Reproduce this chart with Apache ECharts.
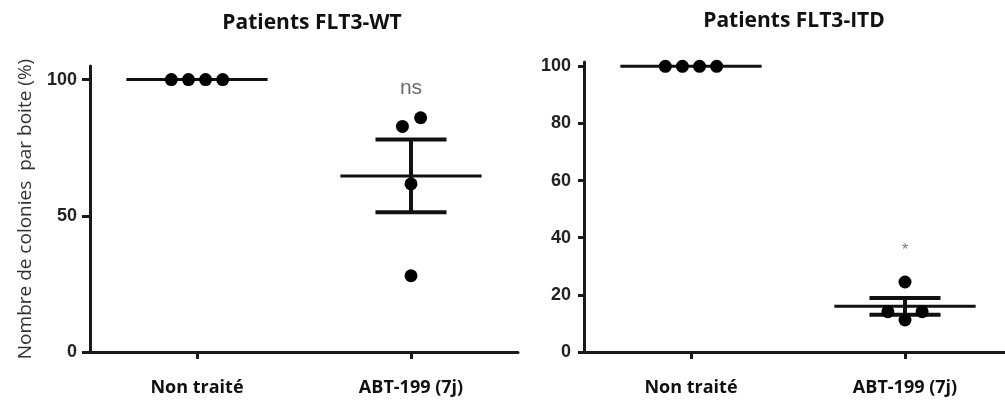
<!DOCTYPE html>
<html><head><meta charset="utf-8">
<script src="https://cdn.jsdelivr.net/npm/echarts@6/dist/echarts.min.js"></script>
<style>html,body{margin:0;padding:0;background:#fff}#c{width:1005px;height:401px}</style>
</head><body><div id="c"></div>
<script>
const categories = ['Non traité', 'ABT-199 (7j)'];
const panelTitles = ['Patients FLT3-WT', 'Patients FLT3-ITD'];
const yAxisTitle = 'Nombre de colonies  par boite (%)';
const yTicksWT = [0, 50, 100];
const yTicksITD = [0, 20, 40, 60, 80, 100];
const wtControl = [100, 100, 100, 100];
const wtTreated = [82.8, 86, 61.7, 28];
const itdControl = [100, 100, 100, 100];
const itdTreated = [24.5, 14.1, 14.1, 11.2];
// horizontal spread of overlapping points within a category (beeswarm layout, in category units)
const spreadControl = [-0.12, -0.04, 0.04, 0.12];
const spreadWTTreated = [-0.04, 0.045, 0, 0];
const spreadITDTreated = [0, -0.08, 0.08, 0];
const annotations = [{ grid: 0, cat: 2, value: 97, text: 'ns' }, { grid: 1, cat: 2, value: 35.5, text: '*' }];

function mean(a) { return a.reduce((s, v) => s + v, 0) / a.length; }
function sem(a) {
  const m = mean(a);
  const sd = Math.sqrt(a.reduce((s, v) => s + (v - m) * (v - m), 0) / (a.length - 1));
  return sd / Math.sqrt(a.length);
}
function pts(cat, vals, spread) { return vals.map((v, i) => [cat + spread[i], v]); }
function summary(cat, vals) { const m = mean(vals), e = sem(vals); return [cat, m, m - e, m + e]; }

const AX = '#1a1a1a';
function xAxis(i, max) {
  return {
    type: 'value', gridIndex: i, min: 0.5, max: max,
    axisLine: { show: true, lineStyle: { color: AX, width: 3 } },
    axisTick: { show: true, customValues: [1, 2], length: 7, lineStyle: { color: AX, width: 3 } },
    axisLabel: {
      customValues: [1, 2], margin: 27,
      formatter: v => categories[Math.round(v) - 1] || '',
      fontFamily: 'Open Sans', fontWeight: 'bold', fontSize: 18, color: '#111'
    },
    splitLine: { show: false }
  };
}
function yAxis(i, max, ticks, name, tickLen) {
  return {
    type: 'value', gridIndex: i, min: 0, max: max,
    name: name, nameLocation: 'middle', nameGap: 55,
    nameTextStyle: { fontFamily: 'Open Sans', fontSize: 19, color: '#333' },
    axisLine: { show: true, lineStyle: { color: AX, width: 3 } },
    axisTick: { show: true, customValues: ticks, length: tickLen, lineStyle: { color: AX, width: 3 } },
    axisLabel: {
      customValues: ticks, margin: 13,
      fontFamily: 'Liberation Sans', fontWeight: 'bold', fontSize: 18, color: '#222'
    },
    splitLine: { show: false }
  };
}

function renderSummary(params, api) {
  const x = api.value(0), m = api.value(1), lo = api.value(2), hi = api.value(3);
  const a = api.coord([x - 0.33, m]), b = api.coord([x + 0.33, m]);
  const children = [{ type: 'line', shape: { x1: a[0], y1: a[1], x2: b[0], y2: b[1] }, style: { stroke: '#111', lineWidth: 3 } }];
  if (hi - lo > 0.01) {
    const t = api.coord([x, hi]), u = api.coord([x, lo]);
    const c1 = api.coord([x - 0.166, hi]), c2 = api.coord([x + 0.166, hi]);
    const d1 = api.coord([x - 0.166, lo]), d2 = api.coord([x + 0.166, lo]);
    children.push({ type: 'line', shape: { x1: t[0], y1: t[1], x2: u[0], y2: u[1] }, style: { stroke: '#111', lineWidth: 4 } });
    children.push({ type: 'line', shape: { x1: c1[0], y1: c1[1], x2: c2[0], y2: c2[1] }, style: { stroke: '#111', lineWidth: 4 } });
    children.push({ type: 'line', shape: { x1: d1[0], y1: d1[1], x2: d2[0], y2: d2[1] }, style: { stroke: '#111', lineWidth: 4 } });
  }
  return { type: 'group', children: children };
}

function scatter(i, data) {
  return { type: 'scatter', xAxisIndex: i, yAxisIndex: i, data: data, symbolSize: 13, itemStyle: { color: '#000', opacity: 1 }, z: 5, silent: true };
}
function summarySeries(i, data) {
  return { type: 'custom', xAxisIndex: i, yAxisIndex: i, data: data, renderItem: renderSummary, z: 4, silent: true };
}
function annotSeries(i) {
  const items = annotations.filter(a => a.grid === i);
  return {
    type: 'scatter', xAxisIndex: i, yAxisIndex: i, symbolSize: 0, silent: true,
    data: items.map(a => ({ value: [a.cat, a.value], name: a.text })),
    label: {
      show: true, position: 'inside', formatter: p => p.name,
      fontFamily: 'Liberation Sans', fontSize: i === 0 ? 21 : 16, color: i === 0 ? '#44444f' : '#555'
    }
  };
}

const titleStyle = { fontFamily: 'Open Sans', fontWeight: 'bold', fontSize: 21, color: '#111' };
const chart = echarts.init(document.getElementById('c'), null, { renderer: 'canvas' });
chart.setOption({
  animation: false,
  backgroundColor: '#fff',
  title: [
    { text: panelTitles[0], left: 307, top: 8, textAlign: 'center', textStyle: titleStyle },
    { text: panelTitles[1], left: 789, top: 6, textAlign: 'center', textStyle: titleStyle }
  ],
  grid: [
    { left: 90, top: 66, width: 428, height: 286 },
    { left: 584, top: 62, width: 421, height: 290 }
  ],
  xAxis: [xAxis(0, 2.5), xAxis(1, 0.5 + 421 / 214)],
  yAxis: [yAxis(0, 105, yTicksWT, yAxisTitle, 8), yAxis(1, 101.5, yTicksITD, '', 6)],
  series: [
    summarySeries(0, [summary(1, wtControl), summary(2, wtTreated)]),
    scatter(0, pts(1, wtControl, spreadControl).concat(pts(2, wtTreated, spreadWTTreated))),
    annotSeries(0),
    summarySeries(1, [summary(1, itdControl), summary(2, itdTreated)]),
    scatter(1, pts(1, itdControl, spreadControl).concat(pts(2, itdTreated, spreadITDTreated))),
    annotSeries(1)
  ]
});
</script></body></html>
